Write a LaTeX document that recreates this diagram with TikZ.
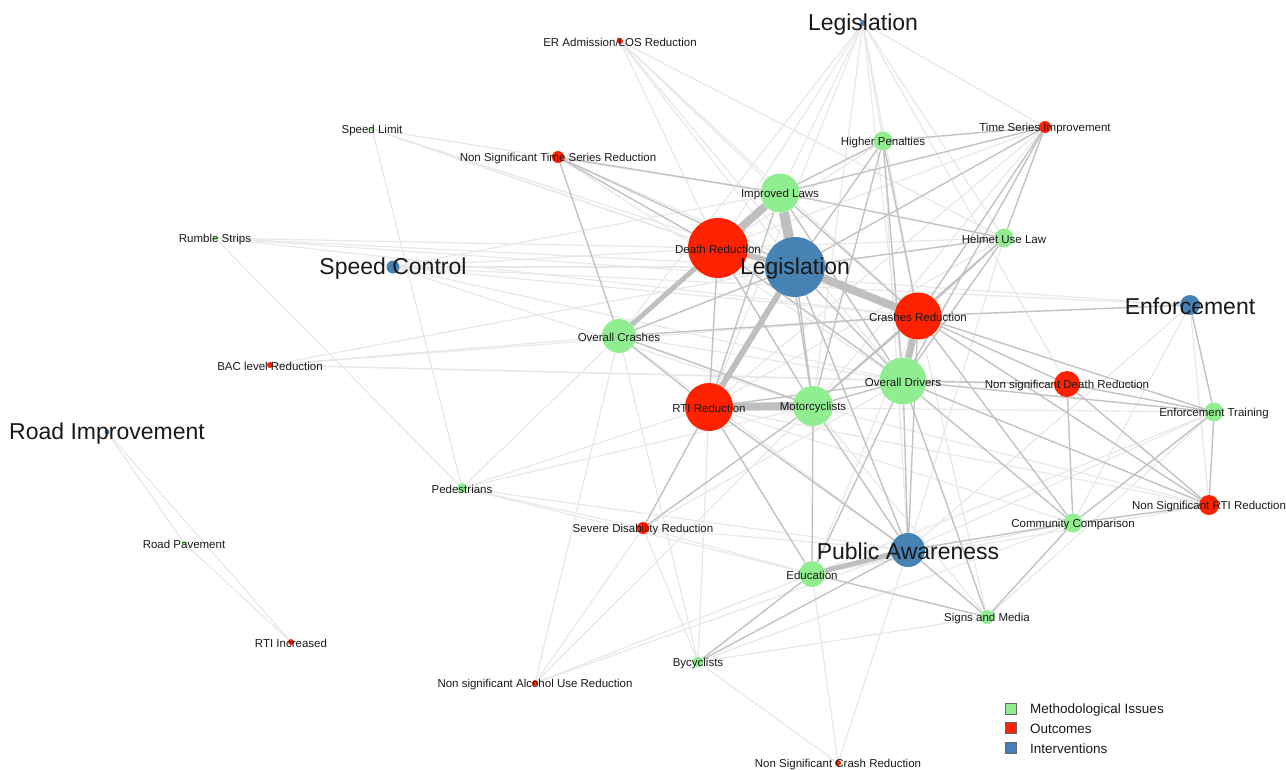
\documentclass[tikz,border=0pt]{standalone}
\usepackage{fontspec}
\setmainfont{Liberation Sans}
\usetikzlibrary{backgrounds}
\definecolor{mgreen}{HTML}{90EE90}
\definecolor{mred}{HTML}{FF2200}
\definecolor{mblue}{HTML}{4682B4}
\tikzset{
  x=1pt, y=-1pt,
  gn/.style={circle,fill=mgreen,inner sep=0pt,minimum size=#1},
  rn/.style={circle,fill=mred,inner sep=0pt,minimum size=#1},
  bn/.style={circle,fill=mblue,inner sep=0pt,minimum size=#1},
  lbl/.style={font=\fontsize{11.5}{12}\selectfont,inner sep=0pt,text=black!90,yshift=-1.5pt},
  big/.style={font=\fontsize{23}{24}\selectfont,inner sep=0pt,text=black!90,yshift=-1.5pt},
  elight/.style={draw=black!9,line width=1.2pt},
  emid/.style={draw=black!24,line width=1.4pt},
  ethick/.style={draw=black!25,line width=#1},
  legbox/.style={draw=black!60,line width=0.6pt,minimum size=11pt,inner sep=0pt},
  legtxt/.style={font=\fontsize{13.5}{14}\selectfont,anchor=west,inner sep=0pt,text=black!90}
}
\begin{document}
\begin{tikzpicture}
\useasboundingbox (0,0) rectangle (1286,769);
% nodes
\node[bn=6pt]  (LT)   at (863,23)  {};
\node[rn=6pt]  (ER)   at (620,41)  {};
\node[gn=4pt]  (SL)   at (372,129) {};
\node[rn=12pt] (NSTS) at (558,157) {};
\node[gn=19pt] (HP)   at (883,141) {};
\node[rn=12pt] (TSI)  at (1045,127){};
\node[gn=39pt] (IL)   at (780,193) {};
\node[gn=4pt]  (RS)   at (215,238) {};
\node[rn=60pt] (DR)   at (718,248) {};
\node[bn=60pt] (LEG)  at (795,267) {};
\node[gn=19pt] (HUL)  at (1004,238){};
\node[bn=13pt] (SC)   at (393,267) {};
\node[rn=47pt] (CR)   at (918,316) {};
\node[bn=20pt] (ENF)  at (1190,305){};
\node[gn=34pt] (OC)   at (619,336) {};
\node[rn=6pt]  (BAC)  at (270,365) {};
\node[gn=47pt] (OD)   at (903,381) {};
\node[rn=26pt] (NSDR) at (1067,384){};
\node[rn=48pt] (RTI)  at (709,407) {};
\node[gn=40pt] (MC)   at (813,406) {};
\node[gn=19pt] (ET)   at (1214,412){};
\node[bn=5pt]  (RI)   at (107,432) {};
\node[gn=10pt] (PED)  at (462,488) {};
\node[rn=12pt] (SDR)  at (643,528) {};
\node[gn=19pt] (CC)   at (1073,523){};
\node[rn=20pt] (NSRTI) at (1209,505){};
\node[bn=34pt] (PA)   at (908,550) {};
\node[gn=26pt] (EDU)  at (812,574) {};
\node[gn=4pt]  (RP)   at (184,543) {};
\node[gn=14pt] (SM)   at (987,617) {};
\node[rn=6pt]  (RTII) at (291,642) {};
\node[gn=11pt] (BY)   at (698,662) {};
\node[rn=6pt]  (NSAU) at (535,683) {};
\node[rn=6pt]  (NSCR) at (838,763) {};
% edges
\begin{scope}[on background layer]
\foreach \a/\b in {LT/IL,LT/DR,LT/HP,LT/CR,LT/OD,LT/HUL,LT/TSI,LT/MC,LT/OC,LT/RTI,LT/NSDR,
  ER/DR,ER/LEG,ER/IL,ER/CR,ER/HUL,ER/OD,
  SL/DR,SL/LEG,SL/CR,SL/IL,SL/PED,
  RS/DR,RS/LEG,RS/CR,RS/ENF,RS/PED,
  SC/DR,SC/LEG,SC/CR,SC/OD,SC/MC,SC/ENF,SC/IL,
  BAC/OC,BAC/LEG,BAC/CR,BAC/OD,BAC/NSDR,
  PED/OC,PED/RTI,PED/EDU,PED/PA,PED/SDR,PED/MC,
  SDR/OD,SDR/BY,SDR/NSAU,SDR/PA,SDR/EDU,
  BY/RTI,BY/SM,BY/NSCR,BY/OC,BY/CC,
  NSAU/EDU,NSAU/PA,NSAU/OC,NSAU/MC,
  NSCR/EDU,NSCR/PA,
  SM/MC,SM/ET,
  ENF/CC,ENF/NSRTI,ENF/PA,
  ET/EDU,ET/PA,ET/RTI,
  NSRTI/MC,NSRTI/EDU,NSRTI/RTI,
  CC/RTI,CC/EDU,
  TSI/DR,TSI/MC,TSI/RTI,
  HUL/DR,HUL/RTI,HUL/PA,
  RI/RP,RI/RTII,RP/RTII,
  NSTS/CR,NSTS/OD,
  HP/DR,HP/PA,
  OC/OD,OC/PA,OC/MC,
  CR/EDU,CR/SM}
  \draw[elight] (\a) -- (\b);
\foreach \a/\b in {NSTS/IL,NSTS/DR,NSTS/OC,NSTS/LEG,
  HP/IL,HP/LEG,HP/CR,HP/OD,HP/TSI,HP/MC,
  TSI/IL,TSI/LEG,TSI/CR,TSI/OD,TSI/HUL,
  HUL/LEG,HUL/CR,HUL/OD,HUL/MC,
  CR/NSDR,CR/ET,CR/NSRTI,CR/CC,CR/ENF,CR/MC,CR/OC,CR/IL,CR/PA,
  OD/NSDR,OD/ET,OD/NSRTI,OD/CC,OD/PA,OD/SM,OD/EDU,OD/MC,OD/RTI,OD/IL,OD/DR,OD/LEG,
  NSDR/CC,NSDR/NSRTI,NSDR/ET,
  ENF/ET,ET/NSRTI,ET/CC,
  CC/PA,CC/NSRTI,CC/SM,
  PA/SM,PA/MC,PA/RTI,PA/LEG,
  EDU/MC,EDU/RTI,EDU/SM,
  MC/LEG,MC/DR,MC/OC,
  RTI/OC,RTI/DR,RTI/SDR,RTI/IL,
  SDR/MC,IL/MC,IL/HUL,OC/LEG,BY/EDU,BY/PA}
  \draw[emid] (\a) -- (\b);
\foreach \a/\b/\w in {IL/LEG/10pt,DR/IL/8pt,LEG/CR/8pt,CR/OD/7pt,RTI/LEG/6pt,
  RTI/MC/8pt,DR/OC/5pt,EDU/PA/5pt,DR/LEG/5pt}
  \draw[ethick=\w] (\a) -- (\b);
\end{scope}
% labels
\node[big] at (LT)  {Legislation};
\node[lbl] at (ER)  {ER Admission/LOS Reduction};
\node[lbl] at (SL)  {Speed Limit};
\node[lbl] at (NSTS) {Non Significant Time Series Reduction};
\node[lbl] at (HP)  {Higher Penalties};
\node[lbl] at (TSI) {Time Series Improvement};
\node[lbl] at (IL)  {Improved Laws};
\node[lbl] at (RS)  {Rumble Strips};
\node[lbl] at (DR)  {Death Reduction};
\node[big] at (LEG) {Legislation};
\node[lbl] at (HUL) {Helmet Use Law};
\node[big] at (SC)  {Speed Control};
\node[lbl] at (CR)  {Crashes Reduction};
\node[big] at (ENF) {Enforcement};
\node[lbl] at (OC)  {Overall Crashes};
\node[lbl] at (BAC) {BAC level Reduction};
\node[lbl] at (OD)  {Overall Drivers};
\node[lbl] at (NSDR) {Non significant Death Reduction};
\node[lbl] at (RTI) {RTI Reduction};
\node[lbl] at (MC)  {Motorcyclists};
\node[lbl] at (ET)  {Enforcement Training};
\node[big] at (RI)  {Road Improvement};
\node[lbl] at (PED) {Pedestrians};
\node[lbl] at (SDR) {Severe Disability Reduction};
\node[lbl] at (CC)  {Community Comparison};
\node[lbl] at (NSRTI) {Non Significant RTI Reduction};
\node[big] at (PA)  {Public Awareness};
\node[lbl] at (EDU) {Education};
\node[lbl] at (RP)  {Road Pavement};
\node[lbl] at (SM)  {Signs and Media};
\node[lbl] at (RTII) {RTI Increased};
\node[lbl] at (BY)  {Bycyclists};
\node[lbl] at (NSAU) {Non significant Alcohol Use Reduction};
\node[lbl] at (NSCR) {Non Significant Crash Reduction};
% legend
\node[legbox,fill=mgreen] (k1) at (1011,709) {};
\node[legbox,fill=mred]   (k2) at (1011,728) {};
\node[legbox,fill=mblue]  (k3) at (1011,748) {};
\node[legtxt] at (1030,710) {Methodological Issues};
\node[legtxt] at (1030,729) {Outcomes};
\node[legtxt] at (1030,749) {Interventions};
\end{tikzpicture}
\end{document}
